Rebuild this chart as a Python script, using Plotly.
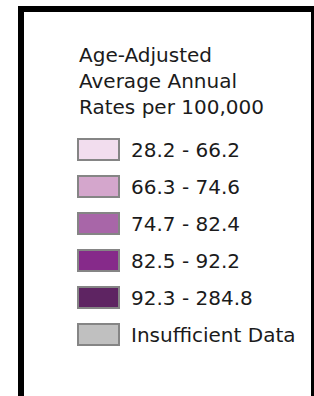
import plotly.graph_objects as go

# Data
title_lines = ["Age-Adjusted", "Average Annual", "Rates per 100,000"]
categories = ["28.2 - 66.2", "66.3 - 74.6", "74.7 - 82.4", "82.5 - 92.2", "92.3 - 284.8", "Insufficient Data"]
colors = ["#F2DDEE", "#D4A6CC", "#A866A8", "#862A8A", "#5E2462", "#C0C0C0"]
swatch_len = [1, 1, 1, 1, 1, 1]

W, H = 314, 396
L, R = 76, 121          # plot area x (px)
T, B = 131, 353         # plot area y (px)

def px_x(p):
    return (p - L) / (R - L)

def px_y(p):
    return (B - p) / (B - T)

FONT = "DejaVu Sans"
FS = 20
TXT = "#1b1b1b"

fig = go.Figure()
fig.add_trace(go.Bar(
    y=categories, x=swatch_len, orientation="h",
    marker=dict(color=colors, line=dict(color="#858585", width=2)),
    width=0.57, hoverinfo="skip", showlegend=False,
))

fig.add_annotation(
    text="<br>".join(title_lines), xref="paper", yref="paper",
    x=px_x(79), y=px_y(43), xanchor="left", yanchor="top",
    showarrow=False, align="left", borderpad=0, borderwidth=0,
    font=dict(family=FONT, size=FS, color=TXT),
)

fig.add_shape(
    type="rect", xref="paper", yref="paper",
    x0=px_x(21), x1=px_x(314), y0=px_y(9), y1=px_y(410),
    line=dict(color="black", width=6), fillcolor="rgba(0,0,0,0)",
)

fig.update_layout(
    width=W, height=H,
    margin=dict(l=L, r=W - R, t=T, b=H - B, pad=0),
    paper_bgcolor="white", plot_bgcolor="white",
    xaxis=dict(range=[-2 / 41, 1 + 2 / 41], visible=False, fixedrange=True),
    yaxis=dict(
        categoryorder="array", categoryarray=categories[::-1],
        side="right", showgrid=False, zeroline=False, showline=False,
        ticks="", ticklabelstandoff=9,
        tickfont=dict(family=FONT, size=FS, color=TXT),
        fixedrange=True,
    ),
    bargap=0.43,
)

fig.write_html(
    "out.html",
    config={"displayModeBar": False},
    post_script="document.body.style.margin='0';document.body.style.overflow='hidden';",
)
